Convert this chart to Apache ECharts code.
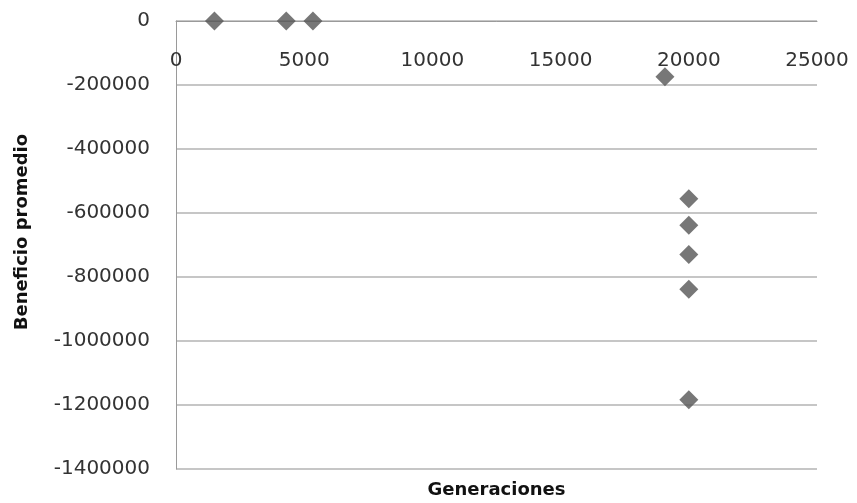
<!DOCTYPE html>
<html>
<head>
<meta charset="utf-8">
<script src="https://cdn.jsdelivr.net/npm/echarts@6/dist/echarts.min.js"></script>
<style>html,body{margin:0;padding:0;background:#fff}#c{width:857px;height:503px}</style>
</head>
<body>
<div id="c"></div>
<script>
const generaciones = [1500, 4300, 5340, 19070, 20000, 20000, 20000, 20000, 20000];
const beneficio = [0, 0, 0, -174500, -555500, -638600, -730000, -838000, -1183800];
const xTicks = [0, 5000, 10000, 15000, 20000, 25000];
const yTicks = [0, -200000, -400000, -600000, -800000, -1000000, -1200000, -1400000];

const chart = echarts.init(document.getElementById('c'));
const font = "'DejaVu Sans', sans-serif";
chart.setOption({
  animation: false,
  backgroundColor: '#fff',
  grid: {left: 176, right: 40, top: 21, bottom: 34, containLabel: false, outerBoundsMode: 'none'},
  xAxis: [{
    type: 'value', position: 'top', min: xTicks[0], max: xTicks[xTicks.length-1], interval: 5000,
    axisLine: {show: true, lineStyle: {color: '#9a9a9a', width: 1}},
    axisTick: {show: false},
    splitLine: {show: false},
    axisLabel: {inside: true, margin: 30, fontSize: 20, color: '#333', fontFamily: font,
      formatter: v => String(v)}
  }, {
    type: 'value', position: 'bottom', min: 0, max: 25000,
    axisLine: {show: false}, axisTick: {show: false}, axisLabel: {show: false}, splitLine: {show: false},
    name: 'Generaciones', nameLocation: 'middle', nameGap: 12,
    nameTextStyle: {fontSize: 18, fontWeight: 'bold', color: '#111', fontFamily: font}
  }],
  yAxis: {
    type: 'value', min: yTicks[yTicks.length-1], max: yTicks[0], interval: 200000,
    axisLine: {show: true, lineStyle: {color: '#9a9a9a', width: 1}},
    axisTick: {show: false},
    splitLine: {show: true, lineStyle: {color: '#b3b3b3', width: 1.5}},
    axisLabel: {margin: 26, fontSize: 20, color: '#333', fontFamily: font,
      formatter: v => String(v)},
    name: 'Beneficio promedio', nameLocation: 'middle', nameGap: 145, nameRotate: 90,
    nameTextStyle: {fontSize: 18, fontWeight: 'bold', color: '#111', fontFamily: font,
      padding: [0, 0, 0, 26]}
  },
  series: [{
    type: 'scatter', symbol: 'diamond', symbolSize: 19,
    itemStyle: {color: '#555'},
    data: generaciones.map((g, i) => [g, beneficio[i]])
  }]
});
</script>
</body>
</html>
